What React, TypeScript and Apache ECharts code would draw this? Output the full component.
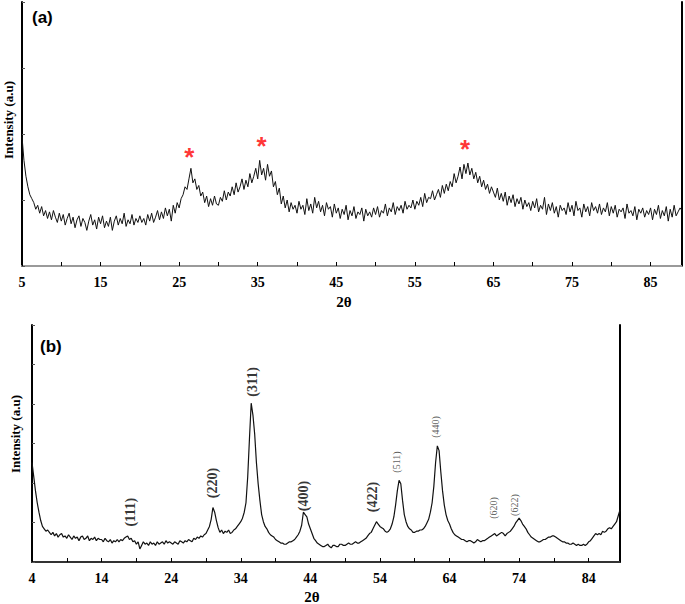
import React, { useEffect, useRef } from "react";
import * as echarts from "echarts";

// ---------- Panel (a) data: 2θ scan from 5° in 0.25° steps ----------
const scanStartA = 5;
const scanStepA = 0.25;
const intensityA = [
  49, 40, 34, 30, 27, 25.5, 24, 21.5, 23, 20, 22.5, 19, 21, 18, 20.5, 17.5, 21, 18.5, 16.5, 20,
  17, 19.5, 15.5, 18, 20, 16, 18.5, 14.5, 17.5, 19, 15, 18, 16.5, 13.5, 17, 19.5, 15.5, 17.5, 14, 18.5,
  16, 19, 14.5, 17, 15, 18.5, 13.5, 17, 19, 15.5, 18, 16, 20, 15, 17.5, 16, 19.5, 15.5, 18, 16.5,
  19, 16.5, 18, 15.5, 19.5, 17, 20, 16.5, 18.5, 21, 17.5, 20.5, 18, 22, 19, 21.5, 17, 23, 20, 24,
  22, 25.5, 27, 30, 29, 33, 37, 31.5, 33, 29, 30.5, 26.5, 28, 24, 26.5, 22.5, 25.5, 23, 26.5, 23.5,
  23, 26, 24.5, 28.5, 25, 28, 26.5, 30, 27, 31.5, 28, 30, 33, 29, 32.5, 30, 35, 31.5, 34, 37,
  33, 40, 34.5, 37, 32.5, 38.5, 34, 36, 30, 32, 27, 29.5, 23.5, 26.5, 22, 25, 20.5, 24, 21.5, 23,
  20, 24.5, 21.5, 23, 19.5, 25.5, 21, 23.5, 20, 26, 22, 24.5, 20.5, 23, 19, 24, 21.5, 22.5, 18.5, 23.5,
  20, 22, 18, 21.5, 19.5, 23, 17.5, 21, 19, 22.5, 18, 20.5, 19.5, 22, 17, 21.5, 19, 20.5, 18.5, 22,
  19.5, 22.5, 18.5, 21, 20, 23.5, 19, 22, 20.5, 24, 19.5, 22.5, 21, 23, 20, 24.5, 21.5, 23, 22, 25,
  21.5, 24.5, 23, 26, 22.5, 27.5, 24, 26, 25.5, 28.5, 25, 27, 29, 26, 30.5, 27.5, 31, 28.5, 32, 30,
  35, 31.5, 34, 37.5, 33, 38.5, 35, 39, 34.5, 37, 33, 35.5, 31.5, 34, 30, 32.5, 29, 31, 27.5, 30,
  28, 26, 29.5, 25, 27.5, 24.5, 28, 23, 26.5, 24, 27, 22.5, 25.5, 23.5, 26, 21.5, 25, 22.5, 24, 21,
  24.5, 22, 25.5, 20.5, 23, 21.5, 26, 19.5, 23.5, 21, 24, 20, 22.5, 18.5, 23, 21, 22, 19.5, 24, 20.5,
  23, 19, 24.5, 21, 22, 18.5, 23.5, 20.5, 22.5, 19, 24, 21, 22.5, 20, 23.5, 19.5, 22, 20.5, 24, 19,
  22.5, 20, 23, 18.5, 21.5, 20.5, 22, 18, 23.5, 20, 21, 19, 22.5, 17.5, 21.5, 20, 22, 18.5, 21, 19.5,
  22, 17.5, 21.5, 19.5, 23, 18, 21, 19, 22.5, 17, 21.5, 18.5, 23, 19, 20.5, 22, 21,
];
const asteriskX = [26.3, 35.5, 61.4];
const asteriskY = [44, 48, 46.8];
const xTicksA = [5, 15, 25, 35, 45, 55, 65, 75, 85];

// ---------- Panel (b) data: 2θ scan from 4° in 0.25° steps ----------
const scanStartB = 4;
const scanStepB = 0.25;
const intensityB = [
  42, 36, 30, 25, 21, 17.5, 15, 14, 13, 13.5, 12.5, 11.5, 12.5, 11, 12, 10.5, 11.5, 12, 10.5, 11,
  10, 11.5, 10.5, 9.5, 11, 10, 10.5, 9, 10.5, 11, 9.5, 10, 11, 9, 10, 9.5, 10.5, 9, 10, 9.5,
  9.5, 8.5, 10, 9, 8.5, 9.5, 8, 9, 8.5, 9.5, 8.5, 9.5, 9, 10, 10.5, 11, 9.5, 10, 8.5, 9,
  7.5, 8.5, 5.5, 7, 8.5, 7.5, 8, 7, 8.5, 7.5, 8, 7, 8.5, 7.5, 8, 8.5, 7.5, 9, 8, 8.5,
  8, 7.5, 8.5, 8, 7.5, 9, 8.5, 8, 9, 8.5, 9.5, 9, 8.5, 10, 9.5, 10.5, 10, 11, 10.5, 11.5,
  12, 13.5, 15, 18, 23, 21, 17.5, 14.5, 12.5, 13.5, 12, 13, 12.5, 13.5, 12, 12.5, 13.5, 14, 15, 16,
  17, 18.5, 21, 25, 36, 52, 67, 62, 54, 42, 33, 26, 20, 17, 15, 14, 12.5, 11.5, 11, 10.5,
  9.5, 9, 8.5, 8, 8, 7.5, 7.5, 8, 8.5, 8.5, 9, 9.5, 10.5, 11.5, 13, 15.5, 21, 20, 19, 16,
  14, 12, 10, 9, 8, 7.5, 7, 6.5, 6.5, 7, 7.5, 6.5, 6, 7, 7, 6.5, 6.5, 7.5, 7.5, 7,
  7, 7.5, 8, 7.5, 7.5, 8, 8.5, 8, 8, 8.5, 9, 9.5, 10, 11, 12, 12.5, 14, 15.5, 17, 16,
  15, 14.5, 14, 13, 12.5, 13, 14, 16, 19, 24, 30, 34.5, 33, 26, 20, 17, 15, 14, 13.5, 12.5,
  12.5, 13, 13, 13.5, 13.5, 14, 15, 16.5, 18, 21, 25, 32, 42, 49, 47, 38, 30, 24, 20, 17.5,
  16, 14, 12.5, 11.5, 11, 10.5, 10, 9.5, 9.5, 9, 8.5, 9, 9, 8.5, 8, 8.5, 9.5, 9, 8.5, 9,
  9, 9.5, 10, 10.5, 11, 11.5, 12, 11, 11.5, 12, 12.5, 12, 11, 12, 12.5, 13, 14, 15, 16.5, 17.5,
  18.5, 17.5, 16, 15, 14, 12.5, 11.5, 10.5, 10, 9.5, 9, 8.5, 8.5, 9, 9.5, 9.5, 10, 10.5, 10.5, 11,
  11, 10.5, 10, 9.5, 9, 8.5, 8.5, 8, 8, 7.5, 7.5, 8, 7.5, 7, 7.5, 7, 7, 7.5, 7, 7.5,
  8.5, 9, 10, 11, 12, 11.5, 12, 11.5, 13, 12.5, 13, 14, 14.5, 14, 15, 16, 17, 19.5, 22,
];
const hklLabels = ["(111)", "(220)", "(311)", "(400)", "(422)", "(511)", "(440)", "(620)", "(622)"];
const hklX = [18.1, 30.0, 35.65, 43.0, 53.0, 56.4, 62.0, 70.3, 73.4];
const hklY = [21, 33.3, 76, 27.8, 27.4, 42.2, 57, 22.8, 24];
const xTicksB = [4, 14, 24, 34, 44, 54, 64, 74, 84];

const SERIF = "'Liberation Serif', 'Times New Roman', serif";
const SANS = "'Liberation Sans', Arial, sans-serif";

export default function App() {
  const ref = useRef<HTMLDivElement>(null);

  useEffect(() => {
    if (!ref.current) return;
    const chart = echarts.init(ref.current, undefined, { renderer: "svg" });

    const lineA = intensityA.map((v, i) => [scanStartA + i * scanStepA, v]);
    const lineB = intensityB.map((v, i) => [scanStartB + i * scanStepB, v]);
    const smallSet = new Set(["(511)", "(440)", "(620)", "(622)"]);

    const baseXAxis = (grid: number, min: number, max: number, ticks: number[]) => ({
      gridIndex: grid,
      type: "value",
      min,
      max,
      interval: 5,
      axisLine: { show: true, lineStyle: { color: "#000", width: 2 } },
      axisTick: { show: true, inside: true, length: 4, lineStyle: { color: "#000", width: 1 } },
      axisLabel: {
        show: true,
        margin: 9,
        color: "#000",
        fontFamily: SERIF,
        fontWeight: "bold",
        fontSize: 14,
        formatter: (v: number) => (ticks.some((t) => Math.abs(t - v) < 1e-6) ? String(v) : ""),
      },
      splitLine: { show: false },
    });

    const borderX = (grid: number, min: number, max: number, color: string) => ({
      gridIndex: grid,
      type: "value",
      position: "top",
      min,
      max,
      axisLine: { show: true, lineStyle: { color, width: 2 } },
      axisTick: { show: false },
      axisLabel: { show: false },
      splitLine: { show: false },
    });

    const leftY = (grid: number, interval: number) => ({
      gridIndex: grid,
      type: "value",
      min: 0,
      max: 100,
      interval,
      axisLine: { show: true, lineStyle: { color: "#000", width: 2 } },
      axisTick: { show: true, inside: true, length: 3, lineStyle: { color: "#555", width: 1 } },
      axisLabel: { show: false },
      splitLine: { show: false },
    });
    const rightY = (grid: number) => ({
      gridIndex: grid,
      type: "value",
      position: "right",
      min: 0,
      max: 100,
      axisLine: { show: true, lineStyle: { color: "#000", width: 2 } },
      axisTick: { show: false },
      axisLabel: { show: false },
      splitLine: { show: false },
    });

    const option: any = {
      animation: false,
      backgroundColor: "#fff",
      grid: [
        { left: 22, top: 2, width: 660, height: 264 },
        { left: 32, top: 325, width: 588, height: 237 },
      ],
      xAxis: [
        baseXAxis(0, 5, 89, xTicksA),
        baseXAxis(1, 4, 88.5, xTicksB),
        borderX(0, 5, 89, "#9a9a9a"),
        borderX(1, 4, 88.5, "#333"),
      ],
      yAxis: [leftY(0, 25), leftY(1, 100 / 6), rightY(0), rightY(1)],
      series: [
        {
          type: "line",
          xAxisIndex: 0,
          yAxisIndex: 0,
          data: lineA,
          symbol: "none",
          lineStyle: { color: "#111", width: 1 },
          silent: true,
        },
        {
          type: "line",
          xAxisIndex: 1,
          yAxisIndex: 1,
          data: lineB,
          symbol: "none",
          lineStyle: { color: "#111", width: 1.2 },
          silent: true,
        },
        {
          type: "scatter",
          xAxisIndex: 0,
          yAxisIndex: 0,
          symbolSize: 0,
          silent: true,
          data: asteriskX.map((x, i) => ({ value: [x, asteriskY[i]], name: "*" })),
          label: {
            show: true,
            position: "inside",
            formatter: "{b}",
            color: "#ff0000",
            fontFamily: SANS,
            fontWeight: "bold",
            fontSize: 26,
            offset: [0, 7],
          },
        },
        {
          type: "scatter",
          xAxisIndex: 1,
          yAxisIndex: 1,
          symbolSize: 0,
          silent: true,
          data: hklX.map((x, i) => {
            const small = smallSet.has(hklLabels[i]);
            return {
              value: [x, hklY[i]],
              name: hklLabels[i],
              label: small
                ? { fontSize: 10, fontWeight: "normal", color: "#333" }
                : { fontSize: 14, fontWeight: "bold", color: "#000" },
            };
          }),
          label: {
            show: true,
            position: "inside",
            formatter: "{b}",
            rotate: 90,
            fontFamily: SERIF,
          },
        },
      ],
      graphic: [
        {
          type: "text",
          left: 32,
          top: 9,
          style: { text: "(a)", fontFamily: SANS, fontWeight: "bold", fontSize: 17, fill: "#000" },
        },
        {
          type: "text",
          left: 40,
          top: 338,
          style: { text: "(b)", fontFamily: SANS, fontWeight: "bold", fontSize: 17, fill: "#000" },
        },
        {
          type: "text",
          x: 8,
          y: 120,
          rotation: Math.PI / 2,
          style: {
            text: "Intensity (a.u)",
            fontFamily: SERIF,
            fontWeight: "bold",
            fontSize: 13,
            fill: "#000",
            align: "center",
            verticalAlign: "middle",
          },
        },
        {
          type: "text",
          x: 15,
          y: 434,
          rotation: Math.PI / 2,
          style: {
            text: "Intensity (a.u)",
            fontFamily: SERIF,
            fontWeight: "bold",
            fontSize: 13,
            fill: "#000",
            align: "center",
            verticalAlign: "middle",
          },
        },
        {
          type: "text",
          x: 344,
          y: 302,
          style: {
            text: "2θ",
            fontFamily: SERIF,
            fontWeight: "bold",
            fontSize: 15,
            fill: "#000",
            align: "center",
            verticalAlign: "middle",
          },
        },
        {
          type: "text",
          x: 312,
          y: 597,
          style: {
            text: "2θ",
            fontFamily: SERIF,
            fontWeight: "bold",
            fontSize: 15,
            fill: "#000",
            align: "center",
            verticalAlign: "middle",
          },
        },
      ],
    };

    chart.setOption(option);
    return () => chart.dispose();
  }, []);

  return (
    <div
      ref={ref}
      style={{ position: "absolute", left: 0, top: 0, width: 685, height: 604, background: "#fff" }}
    />
  );
}
